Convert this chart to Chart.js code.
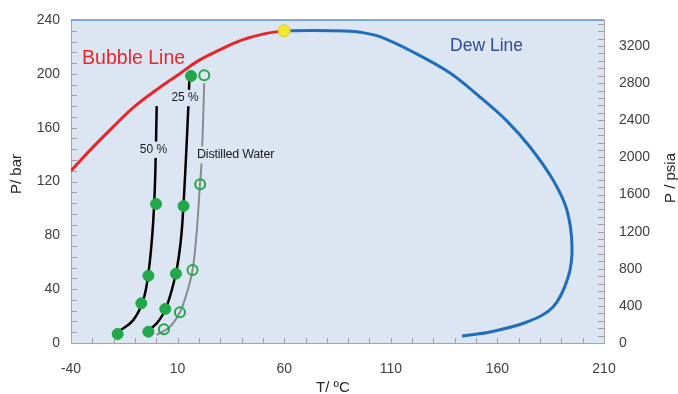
<!DOCTYPE html>
<html>
<head>
<meta charset="utf-8">
<script src="https://cdn.jsdelivr.net/npm/chart.js@4/dist/chart.umd.min.js"></script>
<style>
  body { margin: 0; background: #fff; }
  #wrap { width: 678px; height: 394px; }
</style>
</head>
<body>
<div id="wrap"><canvas id="phaseChart" width="678" height="394"></canvas></div>
<script>
// phase envelope (T in degC, P in bar)
const bubbleT = [-40, -30, -20, -10, 0, 10, 20, 30, 40, 50, 60];
const bubbleP = [128, 145, 161, 176, 188, 199, 210, 218, 225, 229.5, 232];

const dewT = [60, 74, 88.5, 96.5, 104.9, 120.4, 137.8, 151.8, 164.5, 175.3, 186.1, 192.6, 195, 193.2, 186.1, 173.9, 156.5, 143.4];
const dewP = [232, 232.2, 231.8, 230.7, 227.6, 216.2, 200.6, 182.8, 164.9, 145.6, 121.1, 98.8, 71.3, 49, 26.7, 15.6, 8.2, 5.2];

// hydrate curves
const line50T = [-17.8, -10.8, -6.1, -3.7, -2, -1, -0.4, 0.2];
const line50P = [8.4, 17, 32, 52, 78, 103, 130, 176];
const line25T = [-6.1, 0.2, 4.8, 9.2, 11.5, 12.7, 14, 15, 15.5];
const line25P = [7.2, 14.6, 27, 51.8, 76, 101.3, 140, 174.4, 195];
const waterT = [0.2, 6.4, 11.1, 14.3, 17, 18.9, 20.5, 21.3, 22.5];
const waterP = [6, 12.1, 22.8, 37, 54.2, 81.5, 118, 136, 193];

// measured points
const pts50T = [-18.1, -7.0, -3.7, -0.1];
const pts50P = [6.7, 29.5, 50, 103.3];
const pts25T = [-3.7, 4.2, 9.2, 12.8, 16.3];
const pts25P = [8.4, 25.3, 51.5, 101.8, 198.4];
const ptsWaterT = [3.6, 11.1, 17.0, 20.6, 22.5];
const ptsWaterP = [10.2, 22.8, 54.2, 118, 199];

const critT = [60];
const critP = [232];

// axes
const xTicks = [-40, 10, 60, 110, 160, 210];
const barTicks = [0, 40, 80, 120, 160, 200, 240];
const psiaTicks = [0, 400, 800, 1200, 1600, 2000, 2400, 2800, 3200];
const PSIA_PER_BAR = 14.5038;

function pairs(xs, ys) {
  return xs.map((x, i) => ({ x: x, y: ys[i] }));
}

const PLOT_BG = '#dce6f2';
const notes = [
  { text: 'Bubble Line', T: -34.8, P: 211, color: '#e8262a', size: 19.5, align: 'left' },
  { text: 'Dew Line', T: 137.8, P: 220.7, color: '#2f4a9c', size: 17.5, align: 'left' },
  { text: '50 %', T: -1.3, P: 143.6, color: '#1a1a1a', size: 12, align: 'center', box: true },
  { text: '25 %', T: 13.5, P: 182, color: '#1a1a1a', size: 12, align: 'center', box: true },
  { text: 'Distilled Water', T: 19.1, P: 139.7, color: '#1a1a1a', size: 12.5, align: 'left', spacing: '-0.2px', box: true }
];

const FONT = "'Liberation Sans', Arial, sans-serif";
Chart.defaults.font.family = FONT;

const plotDeco = {
  id: 'plotDeco',
  beforeDraw(chart) {
    const { ctx, chartArea: a } = chart;
    ctx.save();
    ctx.fillStyle = PLOT_BG;
    ctx.fillRect(a.left, a.top, a.right - a.left, a.bottom - a.top);
    ctx.restore();
  },
  beforeDatasetsDraw(chart) {
    const { ctx, chartArea: a, scales } = chart;
    ctx.save();
    ctx.strokeStyle = '#a0a0a0';
    ctx.lineWidth = 1;
    ctx.beginPath();
    for (let v = 8; v < 240; v += 8) {
      const y = Math.round(scales.y.getPixelForValue(v)) + 0.5;
      ctx.moveTo(a.left, y); ctx.lineTo(a.left + 6, y);
    }
    for (let v = 80; v < 3480; v += 80) {
      const y = Math.round(scales.y2.getPixelForValue(v)) + 0.5;
      ctx.moveTo(a.right, y); ctx.lineTo(a.right - 6, y);
    }
    for (let v = -30; v < 210; v += 10) {
      const x = Math.round(scales.x.getPixelForValue(v)) + 0.5;
      ctx.moveTo(x, a.bottom); ctx.lineTo(x, a.bottom - 5);
    }
    ctx.stroke();
    ctx.strokeStyle = '#5b8fd0';
    ctx.lineWidth = 1.5;
    ctx.beginPath();
    ctx.moveTo(a.left, a.top); ctx.lineTo(a.right, a.top);
    ctx.stroke();
    ctx.restore();
  },
  afterDatasetsDraw(chart) {
    const { ctx, scales } = chart;
    ctx.save();
    ctx.textBaseline = 'middle';
    notes.forEach(n => {
      const x = scales.x.getPixelForValue(n.T);
      const y = scales.y.getPixelForValue(n.P);
      ctx.font = n.size + 'px ' + FONT;
      ctx.textAlign = n.align;
      ctx.letterSpacing = n.spacing || '0px';
      if (n.box) {
        const w = ctx.measureText(n.text).width + 4;
        const left = n.align === 'center' ? x - w / 2 : x - 2;
        ctx.fillStyle = PLOT_BG;
        ctx.fillRect(left, y - n.size * 0.6 - 1, w, n.size * 1.2 + 2);
      }
      ctx.fillStyle = n.color;
      ctx.fillText(n.text, x, y);
    });
    ctx.letterSpacing = '0px';
    // axis titles
    ctx.fillStyle = '#262626';
    ctx.font = '15px ' + FONT;
    ctx.textAlign = 'center';
    ctx.fillText('T/ ºC', 333, 388);
    ctx.save();
    ctx.translate(17, 174);
    ctx.rotate(-Math.PI / 2);
    ctx.fillText('P/ bar', 0, 0);
    ctx.restore();
    ctx.save();
    ctx.translate(671, 178);
    ctx.rotate(-Math.PI / 2);
    ctx.fillText('P / psia', 0, 0);
    ctx.restore();
    ctx.restore();
  }
};

function fitSide(width) {
  return s => { s.width = width; s.paddingTop = 0; s.paddingBottom = 0; };
}

document.addEventListener('DOMContentLoaded', () => {
  const ctx = document.getElementById('phaseChart').getContext('2d');
  const green = '#22a84a';
  new Chart(ctx, {
    type: 'scatter',
    data: {
      datasets: [
        { data: pairs(critT, critP), pointRadius: 6, pointBackgroundColor: '#f3e830', pointBorderColor: '#d9cd22', pointBorderWidth: 1, order: 0 },
        { data: pairs(pts50T, pts50P), pointRadius: 5.5, pointBackgroundColor: green, pointBorderColor: green, order: 0 },
        { data: pairs(pts25T, pts25P), pointRadius: 5.5, pointBackgroundColor: green, pointBorderColor: green, order: 0 },
        { data: pairs(ptsWaterT, ptsWaterP), pointRadius: 5, pointBackgroundColor: 'rgba(0,0,0,0)', pointBorderColor: green, pointBorderWidth: 2, order: 0 },
        { data: pairs(bubbleT, bubbleP), showLine: true, pointRadius: 0, borderColor: '#e8262a', borderWidth: 3, tension: 0.4, order: 1 },
        { data: pairs(dewT, dewP), showLine: true, pointRadius: 0, borderColor: '#1f6dbb', borderWidth: 3, tension: 0.35, order: 1 },
        { data: pairs(line50T, line50P), showLine: true, pointRadius: 0, borderColor: '#000', borderWidth: 2.5, tension: 0.4, order: 1 },
        { data: pairs(line25T, line25P), showLine: true, pointRadius: 0, borderColor: '#000', borderWidth: 2.5, tension: 0.4, order: 1 },
        { data: pairs(waterT, waterP), showLine: true, pointRadius: 0, borderColor: '#8a8a8a', borderWidth: 2, tension: 0.4, order: 1 }
      ]
    },
    options: {
      responsive: false,
      animation: false,
      layout: { padding: { top: 20, left: 0, right: 0, bottom: 0 } },
      plugins: { legend: { display: false }, tooltip: { enabled: false } },
      scales: {
        x: {
          type: 'linear', min: -40, max: 210,
          afterBuildTicks: s => { s.ticks = xTicks.map(v => ({ value: v })); },
          afterFit: s => { s.height = 51; },
          grid: { drawOnChartArea: false, drawTicks: false },
          border: { color: '#a6a6a6' },
          ticks: { padding: 18, color: '#404040', font: { size: 14 } }
        },
        y: {
          position: 'left', min: 0, max: 240,
          afterBuildTicks: s => { s.ticks = barTicks.map(v => ({ value: v })); },
          afterFit: fitSide(71),
          grid: { drawOnChartArea: false, drawTicks: false },
          border: { color: '#a6a6a6' },
          ticks: { padding: 11, color: '#404040', font: { size: 14 } }
        },
        y2: {
          position: 'right', min: 0, max: 240 * PSIA_PER_BAR,
          afterBuildTicks: s => { s.ticks = psiaTicks.map(v => ({ value: v })); },
          afterFit: fitSide(74),
          grid: { drawOnChartArea: false, drawTicks: false },
          border: { color: '#a6a6a6' },
          ticks: { padding: 15, color: '#404040', font: { size: 14 }, callback: v => String(v) }
        }
      }
    },
    plugins: [plotDeco]
  });
});
</script>
</body>
</html>
